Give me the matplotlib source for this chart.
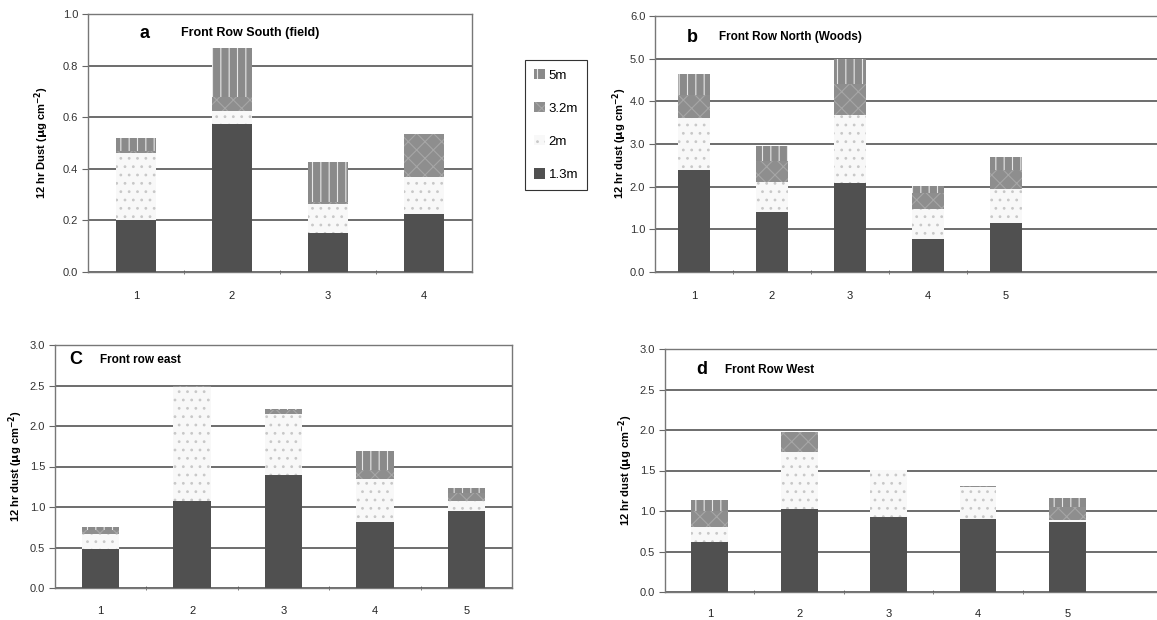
import matplotlib
matplotlib.use("Agg")
import matplotlib.pyplot as plt
import numpy as np

plt.rcParams['font.family'] = ['Liberation Sans', 'DejaVu Sans']
plt.rcParams['hatch.linewidth'] = 0.8

# ---------------- data ----------------
heights = ["1.3m", "2m", "3.2m", "5m"]

south_sites = [1, 2, 3, 4]
south_h13 = [0.20, 0.575, 0.15, 0.225]
south_h2 = [0.26, 0.05, 0.115, 0.145]
south_h32 = [0.01, 0.055, 0.005, 0.165]
south_h5 = [0.05, 0.19, 0.155, 0.0]

north_sites = [1, 2, 3, 4, 5]
north_h13 = [2.40, 1.40, 2.08, 0.78, 1.15]
north_h2 = [1.20, 0.70, 1.60, 0.70, 0.80]
north_h32 = [0.55, 0.50, 0.72, 0.37, 0.45]
north_h5 = [0.50, 0.35, 0.60, 0.17, 0.30]

east_sites = [1, 2, 3, 4, 5]
east_h13 = [0.48, 1.07, 1.40, 0.82, 0.95]
east_h2 = [0.19, 1.41, 0.75, 0.53, 0.13]
east_h32 = [0.04, 0.01, 0.05, 0.11, 0.09]
east_h5 = [0.04, 0.01, 0.01, 0.23, 0.07]

west_sites = [1, 2, 3, 4, 5]
west_h13 = [0.62, 1.03, 0.93, 0.90, 0.87]
west_h2 = [0.18, 0.70, 0.57, 0.40, 0.02]
west_h32 = [0.20, 0.25, 0.0, 0.01, 0.16]
west_h5 = [0.13, 0.0, 0.0, 0.0, 0.11]

# ---------------- styling ----------------
styles = {
    "1.3m": dict(color="#505050", hatch=None, edgecolor="#505050"),
    "2m": dict(color="#f8f8f8", hatch="..", edgecolor="#c8c8c8"),
    "3.2m": dict(color="#8e8e8e", hatch="xx", edgecolor="#a6a6a6"),
    "5m": dict(color="#8a8a8a", hatch="||", edgecolor="#e6e6e6"),
}

W, H = 1157, 620
fig = plt.figure(figsize=(W / 100, H / 100), dpi=100)


def px_axes(left, top, right, bottom):
    return fig.add_axes([left / W, 1 - bottom / H, (right - left) / W, (bottom - top) / H])


def draw_panel(ax, sites, layers, ymax, ystep, xmax, show_right, xpad):
    x = np.array(sites, dtype=float)
    bottom = np.zeros(len(sites))
    handles = []
    for name, vals in zip(heights, layers):
        st = styles[name]
        h = ax.bar(x, vals, width=0.41, bottom=bottom, color=st["color"],
                   hatch=st["hatch"], edgecolor=st["edgecolor"], linewidth=0,
                   zorder=3, label=name)
        handles.append(h)
        bottom = bottom + np.array(vals)
    ax.set_xlim(0.5, xmax)
    ax.set_ylim(0, ymax)
    yt = np.arange(0, ymax + 1e-9, ystep)
    ax.set_yticks(yt)
    ax.set_yticklabels([f"{v:.1f}" for v in yt], fontsize=8, color="#333333")
    ax.yaxis.grid(True, color="#454545", linewidth=1.1, zorder=1)
    ax.set_axisbelow(True)
    ax.set_xticks(sites)
    ax.set_xticklabels([str(s) for s in sites], fontsize=8, color="#222222")
    ax.set_xticks([s + 0.5 for s in sites[:-1]], minor=True)
    ax.tick_params(axis="x", which="major", length=0, pad=xpad)
    ax.tick_params(axis="x", which="minor", length=3, color="#666666", direction="inout")
    ax.tick_params(axis="y", length=4, color="#666666", pad=3)
    for s in ["left", "bottom", "top", "right"]:
        ax.spines[s].set_color("#777777")
        ax.spines[s].set_linewidth(1.0)
    ax.spines["right"].set_visible(show_right)
    return handles


def title(xa, xt, y, letter, text, size):
    fig.text(xa / W, 1 - y / H, letter, fontsize=13, fontweight="bold", va="center", ha="left")
    fig.text(xt / W, 1 - y / H, text, fontsize=size, fontweight="bold", va="center", ha="left")


def ylab(x, y, text):
    fig.text(x / W, 1 - y / H, text, rotation=90, fontsize=8, fontweight="bold",
             va="center", ha="center")


# panel a
ax_a = px_axes(88, 14, 472, 272)
hand = draw_panel(ax_a, south_sites, [south_h13, south_h2, south_h32, south_h5],
                  1.0, 0.2, 4.5, True, 14)
title(140, 181, 33, "a", "Front Row South (field)", 9)
ylab(42, 143, r"12 hr Dust ($\mathbf{\mu}$g cm$^{\mathbf{-2}}$)")

# panel b
ax_b = px_axes(655, 16, 1157, 272)
draw_panel(ax_b, north_sites, [north_h13, north_h2, north_h32, north_h5],
           6.0, 1.0, 6.94, False, 14)
title(687, 719, 37, "b", "Front Row North (Woods)", 8.5)
ylab(620, 143, r"12 hr dust ($\mathbf{\mu}$g cm$^{\mathbf{-2}}$)")

# panel c
ax_c = px_axes(55, 345, 512, 588)
draw_panel(ax_c, east_sites, [east_h13, east_h2, east_h32, east_h5],
           3.0, 0.5, 5.5, True, 13)
title(69, 100, 360, "C", "Front row east", 8.5)
ylab(16, 466, r"12 hr dust ($\mathbf{\mu}$g cm$^{\mathbf{-2}}$)")

# panel d
ax_d = px_axes(665, 349, 1157, 592)
draw_panel(ax_d, west_sites, [west_h13, west_h2, west_h32, west_h5],
           3.0, 0.5, 6.0, False, 12)
title(696, 725, 370, "d", "Front Row West", 8.5)
ylab(626, 470, r"12 hr dust ($\mathbf{\mu}$g cm$^{\mathbf{-2}}$)")

# legend
leg = fig.legend(hand[::-1], heights[::-1], loc="upper left",
                 bbox_to_anchor=(525 / W, 1 - 60 / H), fancybox=False,
                 edgecolor="#333333", framealpha=1, fontsize=9.5,
                 handlelength=0.8, handleheight=0.8, handletextpad=0.3,
                 labelspacing=1.55, borderpad=0.7, borderaxespad=0)
leg.get_frame().set_linewidth(0.8)

fig.savefig("out.png", dpi=100, facecolor="white")
